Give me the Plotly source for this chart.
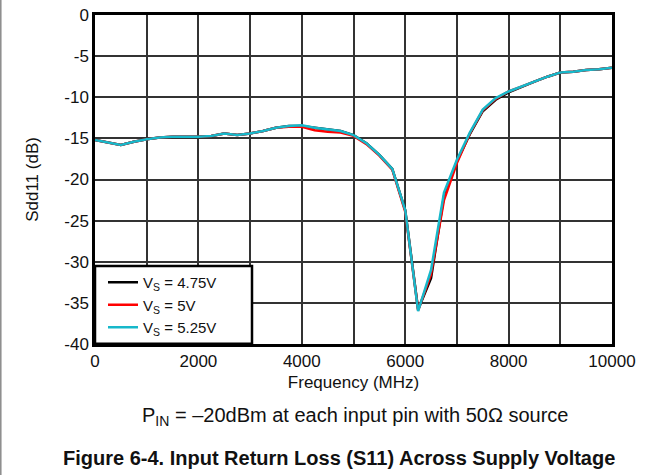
import plotly.graph_objects as go

# Frequency points (MHz)
freq_mhz = [0, 250, 500, 750, 1000, 1250, 1500, 1750, 2000, 2250, 2500, 2750, 3000,
            3250, 3500, 3750, 4000, 4250, 4500, 4750, 5000, 5250, 5500, 5750, 6000,
            6250, 6500, 6750, 7000, 7250, 7500, 7750, 8000, 8250, 8500, 8750, 9000,
            9250, 9500, 9750, 10000]

# Sdd11 (dB) for each supply voltage
sdd11_vs_4p75 = [-15.2, -15.5, -15.8, -15.4, -15.1, -14.9, -14.8, -14.8, -14.8, -14.7,
                 -14.4, -14.6, -14.4, -14.1, -13.7, -13.5, -13.5, -13.7, -13.9, -14.1,
                 -14.6, -15.6, -17.0, -18.7, -23.7, -35.8, -32.0, -22.0, -17.8, -14.5,
                 -11.7, -10.3, -9.4, -8.7, -8.1, -7.5, -7.0, -6.9, -6.7, -6.6, -6.4]
sdd11_vs_5 = [-15.2, -15.5, -15.8, -15.4, -15.1, -14.9, -14.8, -14.8, -14.8, -14.7,
              -14.4, -14.6, -14.4, -14.1, -13.7, -13.6, -13.6, -14.0, -14.2, -14.3,
              -14.7, -15.7, -17.1, -18.8, -23.9, -35.9, -31.5, -22.5, -18.0, -14.4,
              -11.6, -10.2, -9.3, -8.7, -8.1, -7.5, -7.0, -6.9, -6.7, -6.6, -6.4]
sdd11_vs_5p25 = [-15.2, -15.5, -15.8, -15.4, -15.1, -14.9, -14.8, -14.8, -14.8, -14.7,
                 -14.4, -14.6, -14.4, -14.1, -13.7, -13.5, -13.4, -13.7, -13.9, -14.1,
                 -14.6, -15.6, -17.0, -18.7, -23.7, -36.0, -31.0, -21.6, -17.6, -14.3,
                 -11.5, -10.1, -9.3, -8.7, -8.1, -7.5, -7.0, -6.9, -6.7, -6.6, -6.4]

series_names = ["V<sub>S</sub> = 4.75V", "V<sub>S</sub> = 5V", "V<sub>S</sub> = 5.25V"]
series_colors = ["#000000", "#ff0000", "#17b8ca"]
series_values = [sdd11_vs_4p75, sdd11_vs_5, sdd11_vs_5p25]

x_ticks = [0, 2000, 4000, 6000, 8000, 10000]
y_ticks = [0, -5, -10, -15, -20, -25, -30, -35, -40]

FONT = "Liberation Sans, Arial, sans-serif"

fig = go.Figure()
for name, color, vals in zip(series_names, series_colors, series_values):
    fig.add_trace(go.Scatter(x=freq_mhz, y=vals, mode="lines", name=name,
                             line=dict(color=color, width=2.5)))

W, H = 664, 475
L, R, T, B = 95, 52, 15, 131
pw = W - L - R
ph = H - T - B

def px_to_paper_x(px):
    return (px - L) / pw

def px_to_paper_y(py):
    return (H - B - py) / ph

fig.update_layout(
    width=W, height=H,
    margin=dict(l=L, r=R, t=T, b=B),
    paper_bgcolor="white", plot_bgcolor="white",
    font=dict(family=FONT, size=17, color="#111"),
    showlegend=True,
    legend=dict(x=px_to_paper_x(103), y=px_to_paper_y(266), xanchor="left", yanchor="top",
                bgcolor="rgba(0,0,0,0)", borderwidth=0,
                font=dict(family=FONT, size=15, color="#111"),
                tracegroupgap=0),
    xaxis=dict(range=[0, 10000], tickvals=x_ticks, ticktext=[str(v) for v in x_ticks],
               showgrid=True, gridcolor="#333333", gridwidth=1.5,
               minor=dict(dtick=1000, tick0=0, showgrid=True, gridcolor="#333333", gridwidth=1.5),
               showline=True, linecolor="black", linewidth=2.5, mirror=True,
               ticks="", zeroline=False, automargin=False,
               title=dict(text="Frequency (MHz)", standoff=6, font=dict(size=17)),
               tickfont=dict(size=17)),
    yaxis=dict(range=[-40, 0], tickvals=y_ticks, ticktext=[str(v) for v in y_ticks],
               showgrid=True, gridcolor="#333333", gridwidth=1.5,
               showline=True, linecolor="black", linewidth=2.5, mirror=True,
               ticks="", zeroline=False, automargin=False,
               title=dict(text="Sdd11 (dB)", standoff=22, font=dict(size=17)),
               tickfont=dict(size=17)),
)

# Legend frame
fig.add_shape(type="rect", xref="paper", yref="paper",
              x0=px_to_paper_x(95), x1=px_to_paper_x(252),
              y0=px_to_paper_y(343.7), y1=px_to_paper_y(266),
              line=dict(color="black", width=2.5), fillcolor="white", layer="above")

# Page border line at left edge
fig.add_shape(type="line", xref="paper", yref="paper",
              x0=px_to_paper_x(0.8), x1=px_to_paper_x(0.8),
              y0=px_to_paper_y(H), y1=px_to_paper_y(0),
              line=dict(color="#8a8a8a", width=1.5))

fig.add_annotation(text="P<sub>IN</sub> = –20dBm at each input pin with 50Ω source",
                   xref="paper", yref="paper",
                   x=px_to_paper_x(355), y=px_to_paper_y(416),
                   xanchor="center", yanchor="middle", showarrow=False,
                   font=dict(family=FONT, size=20, color="#111"))
fig.add_annotation(text="<b>Figure 6-4. Input Return Loss (S11) Across Supply Voltage</b>",
                   xref="paper", yref="paper",
                   x=px_to_paper_x(339), y=px_to_paper_y(457.5),
                   xanchor="center", yanchor="middle", showarrow=False,
                   font=dict(family=FONT, size=20, color="#111"))

fig.write_html("out.html",
               config={"displayModeBar": False},
               post_script="document.body.style.margin='0';document.body.style.padding='0';")
